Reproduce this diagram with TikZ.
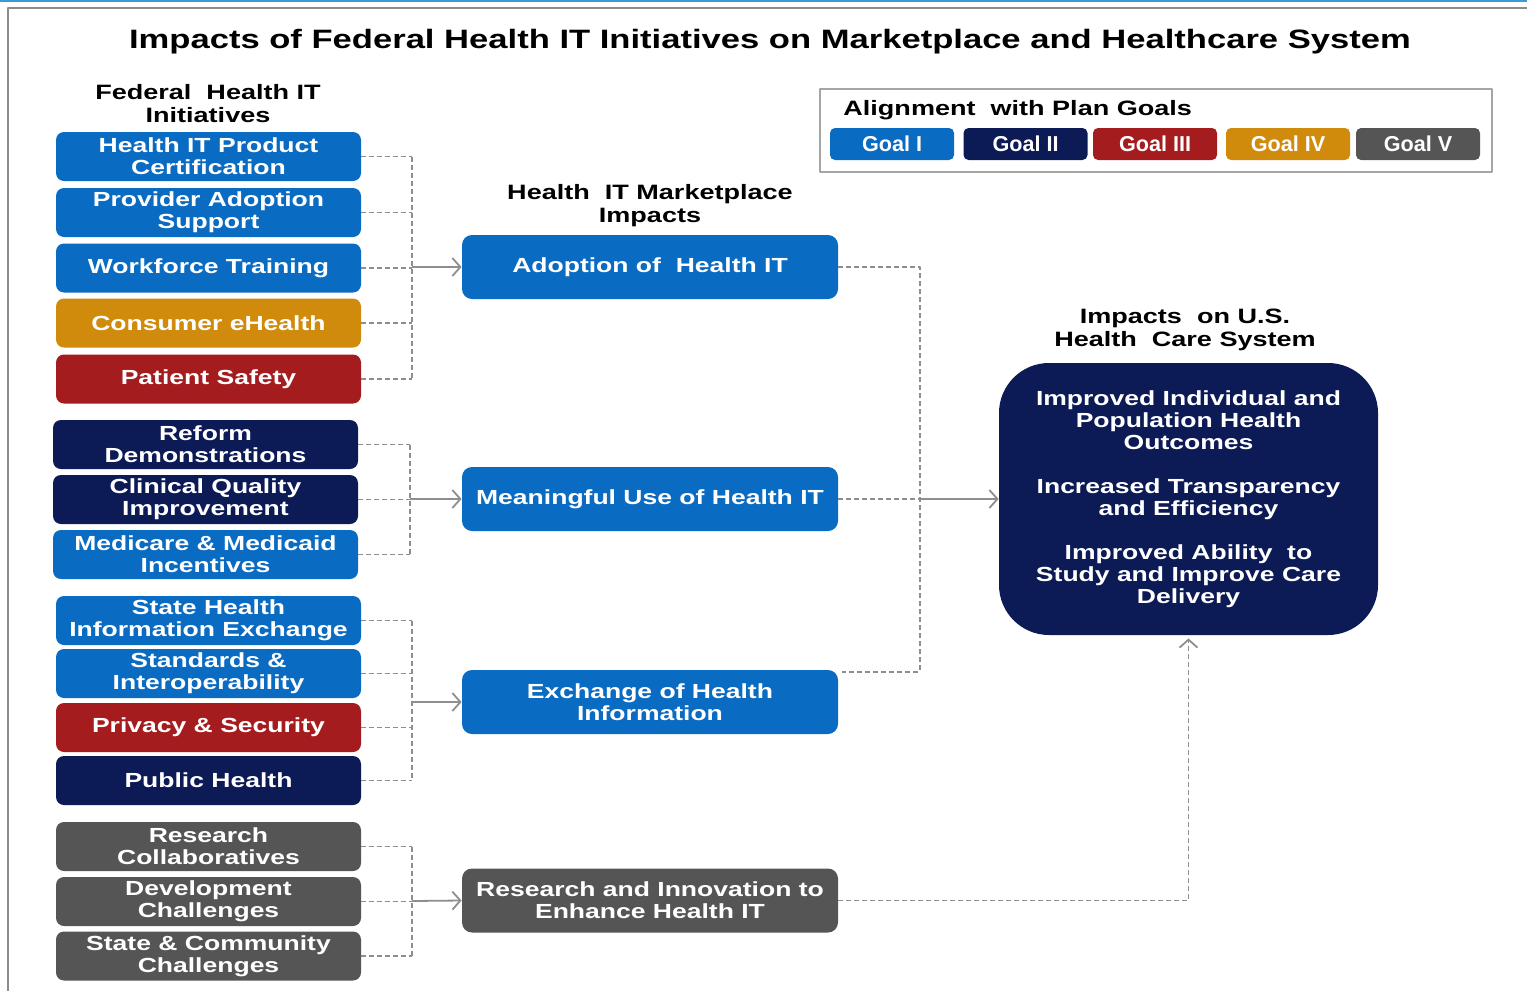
\documentclass[tikz,border=0pt]{standalone}
\usepackage{fontspec}
\setmainfont{Liberation Sans}
\newfontfamily\widefont{Liberation Sans}[FakeStretch=1.3]
\usetikzlibrary{arrows.meta}
\definecolor{goalone}{HTML}{0A6BC2}
\definecolor{goaltwo}{HTML}{0C1A56}
\definecolor{goalthree}{HTML}{A51C1F}
\definecolor{goalfour}{HTML}{D18B0C}
\definecolor{goalfive}{HTML}{555555}
\definecolor{linegray}{HTML}{8E8E8E}
\definecolor{rulegray}{HTML}{8C8C8C}
\definecolor{topblue}{HTML}{3C9AD8}
\begin{document}
\begin{tikzpicture}[x=0.5pt, y=-0.5pt, >={Straight Barb[length=4pt,width=9pt]}, line join=round,
	box/.style={rounded corners=4pt, text=white, align=center, inner sep=0pt,
		font=\widefont\bfseries\fontsize{10.2}{11}\selectfont},
	initbox/.style={box, minimum width=152.5pt, minimum height=24.5pt},
	impbox/.style={box, rounded corners=5pt, minimum width=188pt, minimum height=32pt},
	goalbox/.style={box, rounded corners=2.5pt, minimum width=62pt, minimum height=16pt,
		font=\bfseries\fontsize{10.8}{12}\selectfont},
	head/.style={align=center, inner sep=0pt, font=\widefont\bfseries\fontsize{10.4}{11.5}\selectfont},
	link/.style={draw=linegray, line width=0.9pt, dash pattern=on 2.5pt off 1.5pt},
	feed/.style={draw=linegray, line width=0.9pt, ->}]
	\useasboundingbox (0,0) rectangle (1527,991);
	\draw[topblue, line width=1.2pt] (0,1) -- (1527,1);
	\draw[rulegray, line width=0.8pt] (1527,8) -- (8,8) -- (8,991);
	
	\node[head, font=\widefont\bfseries\fontsize{13.3}{14}\selectfont] (title) at (770,42)
		{Impacts of Federal Health IT Initiatives on Marketplace and Healthcare System};
	
	% legende
	\node[draw=linegray!80, line width=0.6pt, minimum width=336pt, minimum height=41.5pt] (legend) at (1156,130.5) {};
	\node[head, anchor=west] (legendtitle) at (843,110) {Alignment\ \ with Plan Goals};
	\node[goalbox, fill=goalone] (g1) at (892,144) {Goal I};
	\node[goalbox, fill=goaltwo] (g2) at (1025.5,144) {Goal II};
	\node[goalbox, fill=goalthree] (g3) at (1155,144) {Goal III};
	\node[goalbox, fill=goalfour] (g4) at (1288,144) {Goal IV};
	\node[goalbox, fill=goalfive] (g5) at (1418,144) {Goal V};
	
	% initiatives
	\node[head] (inithead) at (208,104) {Federal\ \ Health IT\\Initiatives};
	\node[initbox, fill=goalone] (cert) at (208.5,156.5) {Health IT Product\\Certification};
	\node[initbox, fill=goalone] (adopt) at (208.5,212.5) {Provider Adoption\\Support};
	\node[initbox, fill=goalone] (work) at (208.5,268) {Workforce Training};
	\node[initbox, fill=goalfour] (ehealth) at (208.5,323) {Consumer eHealth};
	\node[initbox, fill=goalthree] (safety) at (208.5,379) {Patient Safety};
	\node[initbox, fill=goaltwo] (reform) at (205.5,444.5) {Reform\\Demonstrations};
	\node[initbox, fill=goaltwo] (quality) at (205.5,499.5) {Clinical Quality\\Improvement};
	\node[initbox, fill=goalone] (incent) at (205.5,554.5) {Medicare \& Medicaid\\Incentives};
	\node[initbox, fill=goalone] (hie) at (208.5,620.5) {State Health\\Information Exchange};
	\node[initbox, fill=goalone] (stand) at (208.5,673.5) {Standards \&\\Interoperability};
	\node[initbox, fill=goalthree] (privacy) at (208.5,727.5) {Privacy \& Security};
	\node[initbox, fill=goaltwo] (pubhealth) at (208.5,780.5) {Public Health};
	\node[initbox, fill=goalfive] (collab) at (208.5,846.5) {Research\\Collaboratives};
	\node[initbox, fill=goalfive] (devel) at (208.5,901.5) {Development\\Challenges};
	\node[initbox, fill=goalfive] (community) at (208.5,956) {State \& Community\\Challenges};
	
	% marketplace
	\node[head] (markethead) at (650,206) {Health\ \ IT Marketplace\\Impacts};
	\node[impbox, fill=goalone] (adoption) at (650,267) {Adoption of\ \ Health IT};
	\node[impbox, fill=goalone] (meaningful) at (650,499) {Meaningful Use of Health IT};
	\node[impbox, fill=goalone] (exchange) at (650,702) {Exchange of Health\\Information};
	\node[impbox, fill=goalfive] (research) at (650,900.5) {Research and Innovation to\\Enhance Health IT};
	
	% health care system
	\node[head] (carehead) at (1185,330) {Impacts\ \ on U.S.\\Health\ \ Care System};
	\node[box, rounded corners=25pt, fill=goaltwo, minimum width=189.5pt, minimum height=136pt] (outcomes) at (1188.5,499)
		{Improved Individual and\\Population Health\\Outcomes\\[11pt]Increased Transparency\\and Efficiency\\[11pt]Improved Ability\ \ to\\Study and Improve Care\\Delivery};
	
	\coordinate (busA) at (412,267);
	\coordinate (busB) at (410,499);
	\coordinate (busC) at (412,702);
	\coordinate (busD) at (412,901);
	\foreach \n in {cert,adopt,work,ehealth,safety} \draw[link] (\n.east) -- (\n.east -| busA);
	\foreach \n in {reform,quality,incent} \draw[link] (\n.east) -- (\n.east -| busB);
	\foreach \n in {hie,stand,privacy,pubhealth} \draw[link] (\n.east) -- (\n.east -| busC);
	\foreach \n in {collab,devel,community} \draw[link] (\n.east) -- (\n.east -| busD);
	\draw[link] (cert.east -| busA) -- (safety.east -| busA);
	\draw[link] (reform.east -| busB) -- (incent.east -| busB);
	\draw[link] (hie.east -| busC) -- (pubhealth.east -| busC);
	\draw[link] (collab.east -| busD) -- (community.east -| busD);
	\draw[feed] (busA) -- (adoption.west);
	\draw[feed] (busB) -- (meaningful.west);
	\draw[feed] (busC) -- (exchange.west);
	\draw[feed] (busD) -- (research.west);
	
	\coordinate (busE) at (920,499);
	\coordinate (exchend) at ([shift={(2pt,-1pt)}]exchange.north east);
	\draw[link] (adoption.east) -- (adoption.east -| busE) -- (exchend -| busE) -- (exchend);
	\draw[link] (meaningful.east) -- (busE);
	\draw[feed] (busE) -- (outcomes.west);
	\draw[link, ->, shorten >=1.5pt] (research.east) -- (research.east -| outcomes.south) -- (outcomes.south);
\end{tikzpicture}
\end{document}
